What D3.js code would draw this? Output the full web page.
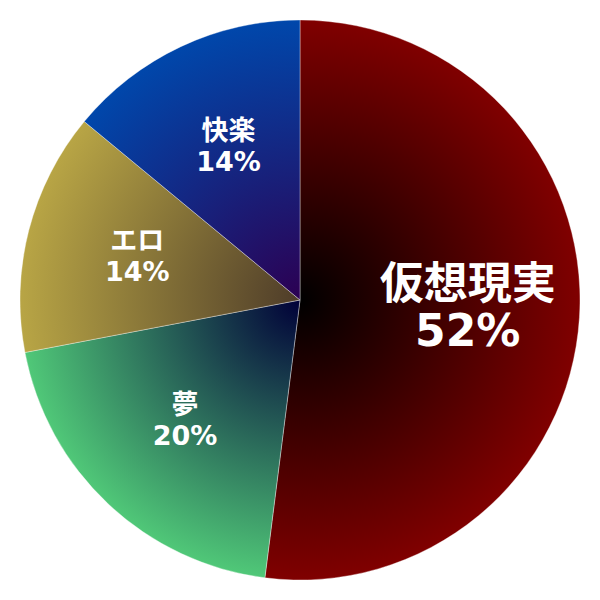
<!DOCTYPE html>
<html><head><meta charset="utf-8">
<script src="https://cdn.jsdelivr.net/npm/d3@7"></script>
<style>html,body{margin:0;padding:0;background:#fff;}</style>
</head><body>
<svg id="chart" width="600" height="600"></svg>
<script>
const categories = ["仮想現実", "夢", "エロ", "快楽"];
const values = [52, 20, 14, 14];
const edgeColors = ["#800000", "#50C878", "#B8A545", "#0047AB"];
const centerColors = ["#000000", "#000038", "#4E3C29", "#2C0052"];
const labelSizes = [44, 27, 27, 27];

const svg = d3.select("#chart");
const W = 600, H = 600, R = 280, cx = 300, cy = 300;
const defs = svg.append("defs");
categories.forEach((c, i) => {
  const g = defs.append("radialGradient").attr("id", "grad" + i)
    .attr("gradientUnits", "userSpaceOnUse")
    .attr("cx", 0).attr("cy", 0).attr("r", R);
  g.append("stop").attr("offset", "0").attr("stop-color", centerColors[i]);
  g.append("stop").attr("offset", "1").attr("stop-color", edgeColors[i]);
});

const data = categories.map((c, i) => ({ name: c, value: values[i], i }));
const pie = d3.pie().value(d => d.value).sort(null);
const arc = d3.arc().innerRadius(0).outerRadius(R);
const labelArc = d3.arc().innerRadius(R * 0.6).outerRadius(R * 0.6);
const arcs = pie(data);

const g = svg.append("g").attr("transform", `translate(${cx},${cy})`);
g.selectAll("path").data(arcs).join("path")
  .attr("d", arc)
  .attr("fill", d => `url(#grad${d.data.i})`)
  .attr("stroke", "rgba(255,255,255,0.6)")
  .attr("stroke-width", 0.6);

const lbl = g.selectAll("text").data(arcs).join("text")
  .attr("transform", d => `translate(${labelArc.centroid(d)})`)
  .attr("text-anchor", "middle")
  .attr("fill", "#fff")
  .attr("font-family", "'DejaVu Sans', 'Noto Sans CJK JP', sans-serif")
  .attr("font-weight", "bold")
  .attr("font-size", d => labelSizes[d.data.i] + "px");
lbl.append("tspan").attr("x", 0).attr("y", d => d.data.i === 0 ? "-0.26em" : "-0.3em")
  .text(d => d.data.name);
lbl.append("tspan").attr("x", 0).attr("y", d => d.data.i === 0 ? "0.8em" : "0.85em")
  .text(d => d.data.value + "%");
</script>
</body></html>
